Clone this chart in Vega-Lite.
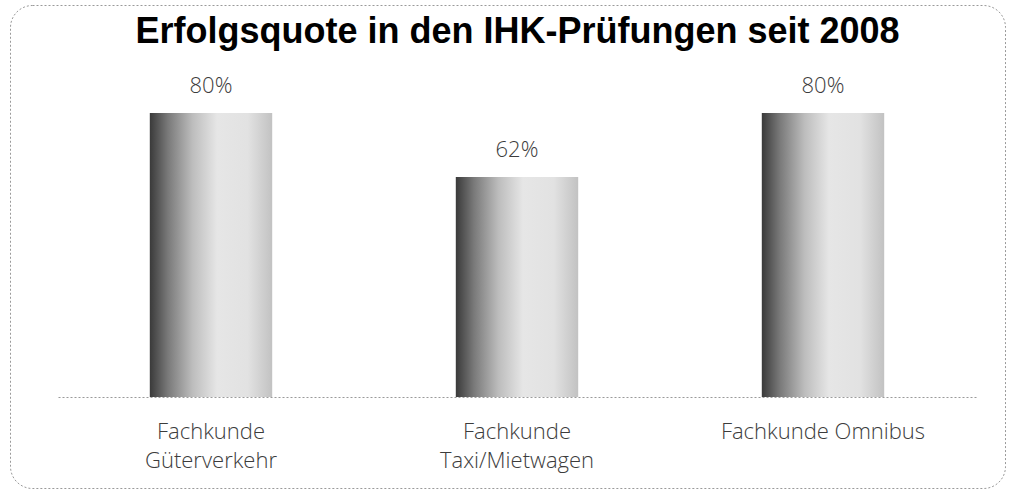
{
  "$schema": "https://vega.github.io/schema/vega-lite/v6.json",
  "autosize": "none",
  "width": 995,
  "height": 483,
  "padding": {"left": 10, "top": 5, "right": 8, "bottom": 6},
  "background": "white",
  "title": {
    "text": "Erfolgsquote in den IHK-Prüfungen seit 2008",
    "font": "Liberation Sans",
    "fontSize": 36,
    "fontWeight": "bold",
    "color": "#000000",
    "anchor": "middle",
    "frame": "group",
    "baseline": "alphabetic",
    "offset": -42,
    "dx": 10,
    "dy": 32
  },
  "config": {
    "view": {"stroke": "#9a9a9a", "strokeDash": [2, 2], "strokeWidth": 1, "cornerRadius": 22}
  },
  "data": {
    "values": [
      {"kategorie": "Fachkunde|Güterverkehr", "quote": 80, "label": "80%"},
      {"kategorie": "Fachkunde|Taxi/Mietwagen", "quote": 62, "label": "62%"},
      {"kategorie": "Fachkunde Omnibus", "quote": 80, "label": "80%"}
    ]
  },
  "encoding": {
    "x": {
      "field": "kategorie",
      "type": "nominal",
      "sort": null,
      "scale": {"range": [48, 966], "paddingInner": 0.6, "paddingOuter": 0.3},
      "axis": {
        "title": null,
        "orient": "bottom",
        "offset": -91,
        "labelAngle": 0,
        "ticks": false,
        "tickSize": 0,
        "labelPadding": 41,
        "labelBaseline": "alphabetic",
        "labelLineHeight": 29,
        "labelLimit": 0,
        "labelExpr": "split(datum.value, '|')",
        "labelFont": "Open Sans",
        "labelFontSize": 22,
        "labelFontWeight": 300,
        "labelColor": "#3c3c3c",
        "domainColor": "#9a9a9a",
        "domainDash": [2, 2],
        "domainWidth": 1.2,
        "grid": false
      }
    },
    "y": {
      "field": "quote",
      "type": "quantitative",
      "scale": {"domain": [-25.63, 110.42], "nice": false, "zero": false},
      "axis": null
    }
  },
  "layer": [
    {
      "mark": {
        "type": "bar",
        "color": {
          "gradient": "linear",
          "x1": 0, "y1": 0, "x2": 1, "y2": 0,
          "stops": [
            {"offset": 0, "color": "#3a3a3a"},
            {"offset": 0.15, "color": "#7a7a7a"},
            {"offset": 0.35, "color": "#bdbdbd"},
            {"offset": 0.55, "color": "#e6e6e6"},
            {"offset": 0.8, "color": "#e2e2e2"},
            {"offset": 1, "color": "#c2c2c2"}
          ]
        }
      },
      "encoding": {"y2": {"datum": 0}}
    },
    {
      "mark": {
        "type": "text",
        "baseline": "alphabetic",
        "dy": -20,
        "font": "Open Sans",
        "fontSize": 22,
        "fontWeight": 300,
        "color": "#3c3c3c"
      },
      "encoding": {"text": {"field": "label"}}
    }
  ]
}
